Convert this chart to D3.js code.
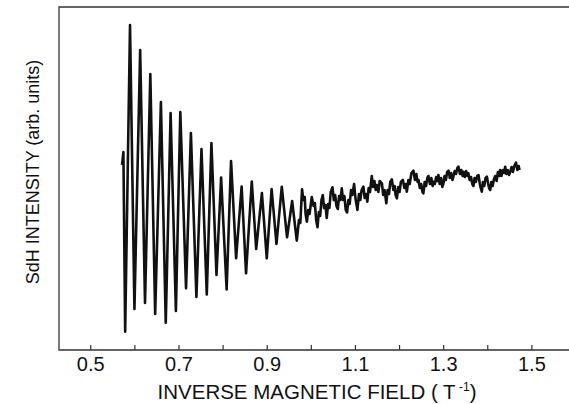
<!DOCTYPE html>
<html>
<head>
<meta charset="utf-8">
<script src="https://d3js.org/d3.v7.min.js"></script>
<style>
	body { margin: 0; background: #fff; }
	text { font-family: "Liberation Sans", Arial, Helvetica, sans-serif; fill: #111; }
</style>
</head>
<body>
<div id="chart"></div>
<script>

// inverse magnetic field (1/T)
var invField = [
	0.571, 0.574, 0.578, 0.589, 0.599, 0.612, 0.623, 0.635, 0.646, 0.659,
	0.670, 0.681, 0.693, 0.703, 0.716, 0.727, 0.7395, 0.751, 0.763, 0.7735,
	0.785, 0.7955, 0.808, 0.818, 0.8295, 0.842, 0.852, 0.865, 0.875, 0.888,
	0.899, 0.910, 0.921, 0.933, 0.945, 0.9565, 0.967,
	0.972, 0.975, 0.979, 0.982, 0.985, 0.987, 0.990, 0.993, 0.996, 1.001,
	1.005, 1.008, 1.011, 1.014, 1.017, 1.020, 1.023, 1.026, 1.029, 1.032,
	1.035, 1.038, 1.041, 1.044, 1.048, 1.051, 1.054, 1.057, 1.060, 1.063,
	1.066, 1.069, 1.072, 1.075, 1.078, 1.081, 1.084, 1.087, 1.090, 1.093,
	1.097, 1.100, 1.1045, 1.108, 1.111, 1.114, 1.118, 1.121, 1.124, 1.127,
	1.130, 1.133, 1.137, 1.140, 1.143, 1.146, 1.1485, 1.152, 1.155, 1.160,
	1.163, 1.166, 1.170, 1.173, 1.176, 1.179, 1.1825, 1.186, 1.189, 1.191,
	1.194, 1.197, 1.200, 1.203, 1.2075, 1.211, 1.214, 1.2165, 1.220, 1.223,
	1.227, 1.2315, 1.235, 1.238, 1.241, 1.243, 1.246, 1.249, 1.252, 1.254,
	1.257, 1.260, 1.263, 1.2655, 1.269, 1.272, 1.275, 1.277, 1.280, 1.283,
	1.286, 1.288, 1.291, 1.294, 1.297, 1.2995, 1.302, 1.305, 1.308, 1.311,
	1.314, 1.317, 1.320, 1.322, 1.325, 1.328, 1.331, 1.3335, 1.337, 1.340,
	1.343, 1.345, 1.348, 1.351, 1.354, 1.356, 1.359, 1.362, 1.365, 1.3675,
	1.370, 1.373, 1.376, 1.379, 1.382, 1.384, 1.3865, 1.389, 1.392, 1.395,
	1.398, 1.401, 1.403, 1.4055, 1.408, 1.411, 1.414, 1.417, 1.420, 1.423,
	1.426, 1.428, 1.431, 1.434, 1.437, 1.4395, 1.442, 1.445, 1.448, 1.451,
	1.454, 1.457, 1.460, 1.464, 1.467, 1.470, 1.472
];

// SdH intensity (arb. units)
var sdhIntensity = [
	1.85, 1.98, 0.183, 3.25, 0.41, 3.00, 0.47, 2.76, 0.36, 2.48,
	0.273, 2.37, 0.39, 2.38, 0.617, 2.17, 0.53, 2.01, 0.555, 2.07,
	0.75, 1.725, 0.605, 1.89, 0.917, 1.635, 0.767, 1.685, 1.01, 1.57,
	0.917, 1.61, 1.06, 1.633, 1.127, 1.49, 1.093,
	1.30, 1.27, 1.607, 1.50, 1.53, 1.36, 1.283, 1.40, 1.36, 1.53,
	1.44, 1.47, 1.30, 1.227, 1.38, 1.34, 1.50, 1.55, 1.42, 1.45,
	1.32, 1.46, 1.42, 1.58, 1.627, 1.50, 1.55, 1.44, 1.41, 1.54,
	1.50, 1.617, 1.50, 1.54, 1.40, 1.375, 1.50, 1.46, 1.60, 1.55,
	1.66, 1.52, 1.40, 1.56, 1.50, 1.60, 1.633, 1.52, 1.56, 1.483,
	1.62, 1.58, 1.74, 1.63, 1.69, 1.60, 1.65, 1.58, 1.69, 1.667,
	1.55, 1.60, 1.467, 1.60, 1.56, 1.68, 1.707, 1.60, 1.64, 1.55,
	1.517, 1.63, 1.58, 1.68, 1.70, 1.62, 1.66, 1.583, 1.70, 1.66,
	1.77, 1.793, 1.70, 1.76, 1.68, 1.70, 1.62, 1.66, 1.58, 1.567,
	1.68, 1.64, 1.72, 1.74, 1.66, 1.72, 1.64, 1.683, 1.66, 1.73,
	1.69, 1.75, 1.66, 1.72, 1.63, 1.667, 1.74, 1.70, 1.78, 1.793,
	1.72, 1.77, 1.70, 1.733, 1.79, 1.76, 1.82, 1.833, 1.76, 1.80,
	1.74, 1.783, 1.73, 1.79, 1.74, 1.767, 1.70, 1.73, 1.66, 1.64,
	1.72, 1.68, 1.74, 1.75, 1.66, 1.62, 1.583, 1.68, 1.64, 1.72,
	1.733, 1.66, 1.62, 1.60, 1.68, 1.64, 1.71, 1.74, 1.69, 1.78,
	1.74, 1.80, 1.74, 1.80, 1.77, 1.833, 1.76, 1.80, 1.75, 1.783,
	1.83, 1.78, 1.84, 1.873, 1.80, 1.84, 1.80
];

var xTicks = [0.5, 0.6, 0.7, 0.8, 0.9, 1.0, 1.1, 1.2, 1.3, 1.4, 1.5, 1.6];
var xTickLabels = [0.5, 0.7, 0.9, 1.1, 1.3, 1.5];

var width = 569, height = 404;
// note: "top" is taken by window.top, so the edges get their own names
var edgeLeft = 59, edgeTop = 7, edgeBottom = 350, edgeRight = 576;

var svg = d3.select("#chart")
	.append("svg")
	.attr("width", width)
	.attr("height", height);

var x = d3.scaleLinear().domain([0.428, 1.6]).range([edgeLeft, edgeRight]);
var y = d3.scaleLinear().domain([0, 3.43]).range([edgeBottom, edgeTop]);

// frame (right side falls off the picture)
svg.append("path")
	.attr("d", "M" + edgeRight + "," + edgeTop + "H" + edgeLeft + "V" + edgeBottom + "H" + edgeRight)
	.style("fill", "none")
	.style("stroke", "#333")
	.style("stroke-width", 1.3);

// ticks point inward from the bottom edge
svg.selectAll(".tick")
	.data(xTicks)
	.enter().append("line")
	.attr("class", "tick")
	.attr("x1", function(d) { return x(d); })
	.attr("x2", function(d) { return x(d); })
	.attr("y1", edgeBottom)
	.attr("y2", edgeBottom - 5)
	.style("stroke", "#333")
	.style("stroke-width", 1.2);

svg.selectAll(".ticklabel")
	.data(xTickLabels)
	.enter().append("text")
	.attr("class", "ticklabel")
	.attr("x", function(d) { return x(d); })
	.attr("y", 371)
	.attr("text-anchor", "middle")
	.style("font-size", "20px")
	.text(function(d) { return d3.format(".1f")(d); });

// x title with superscript
var xt = svg.append("text")
	.attr("x", 317)
	.attr("y", 399)
	.attr("text-anchor", "middle")
	.style("font-size", "20.5px");
xt.append("tspan").text("INVERSE MAGNETIC FIELD ( T");
xt.append("tspan").attr("dy", -8).style("font-size", "12px").text(" -1");
xt.append("tspan").attr("dy", 8).text(")");

svg.append("text")
	.attr("transform", "translate(39,172) rotate(-90)")
	.attr("text-anchor", "middle")
	.style("font-size", "18px")
	.text("SdH INTENSITY (arb. units)");

var pts = invField.map(function(d, i) { return [d, sdhIntensity[i]]; });

var line = d3.line()
	.x(function(d) { return x(d[0]); })
	.y(function(d) { return y(d[1]); });

svg.append("path")
	.datum(pts)
	.attr("d", line)
	.style("fill", "none")
	.style("stroke", "#111")
	.style("stroke-width", 2.6)
	.style("stroke-linejoin", "round");

</script>
</body>
</html>
